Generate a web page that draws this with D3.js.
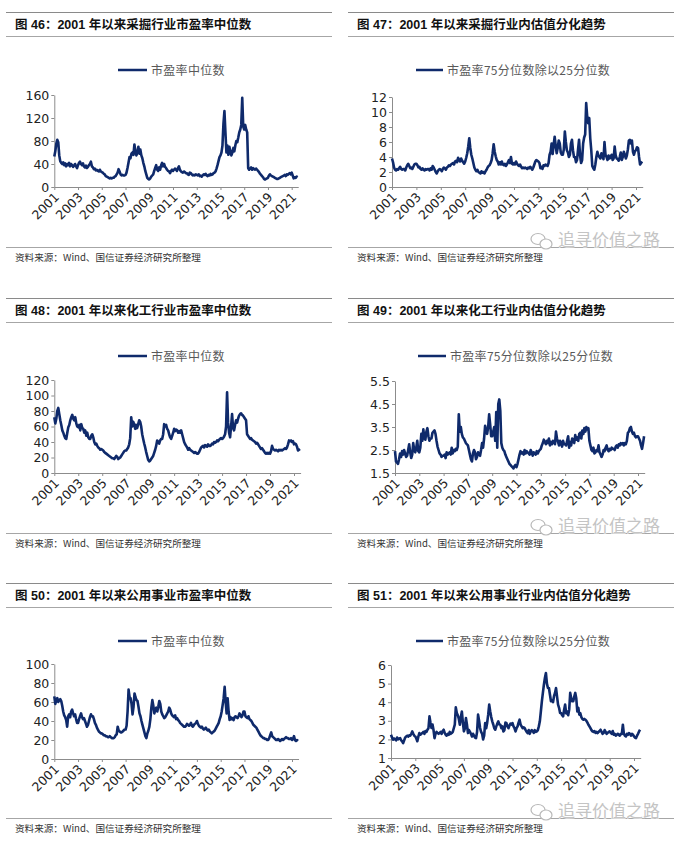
<!DOCTYPE html>
<html><head><meta charset="utf-8">
<script src="https://cdn.jsdelivr.net/npm/d3@7"></script>
<style>body{margin:0;background:#fff}svg{display:block}</style>
</head><body>
<svg id="c" width="678" height="846"></svg>
<script>
// ---- data (monthly, starting Jan 2001) ----
const startYear = 2001;
const yearTicks = [2001,2003,2005,2007,2009,2011,2013,2015,2017,2019,2021];
const yearTickLabels = ['2001','2003','2005','2007','2009','2011','2013','2015','2017','2019','2021'];

const miningPE = [
 53,62,75,82,78,55,45,42,40,43,38,41,
 36,40,38,42,36,40,38,35,37,40,36,33,
 38,42,44,40,38,41,36,34,37,33,35,38,
 40,44,36,34,31,32,29,30,28,27,30,27,
 26,25,23,22,19,18,17,16,15,16,15,16,
 16,18,19,22,25,31,27,22,20,21,20,20,
 21,25,33,42,52,50,58,60,56,74,62,55,
 60,70,58,65,55,50,42,36,28,22,16,14,
 13,15,18,20,22,28,33,38,30,28,34,30,
 38,42,36,40,35,33,30,28,27,24,28,30,
 28,30,32,30,28,33,36,30,27,26,25,27,
 26,24,24,22,21,25,24,22,20,21,20,22,
 21,20,22,19,20,18,20,22,21,23,20,19,
 21,20,23,21,22,24,25,27,32,38,45,52,
 55,60,72,110,132,95,60,72,56,70,62,55,
 60,68,62,72,80,78,86,95,100,108,155,105,
 100,108,100,95,33,30,32,34,30,33,31,30,
 32,30,28,26,23,21,19,17,14,13,14,15,
 16,20,22,20,19,18,17,16,15,14,14,15,
 16,17,18,19,20,21,19,22,21,23,24,22,
 25,20,15,17,16,18,17];

const miningRatio = [
 3.8,3.3,2.6,2.3,2.2,2.4,2.3,2.5,2.7,2.4,2.3,2.4,
 2.4,2.2,2.6,2.9,3.1,2.8,2.5,2.6,2.4,2.7,3.0,3.1,
 3.1,2.9,2.6,2.7,2.4,2.3,2.5,2.3,2.2,2.4,2.3,2.4,
 2.4,2.2,2.5,2.3,2.8,2.6,2.3,2.0,1.8,2.1,2.3,2.4,
 2.3,2.1,2.4,2.6,2.5,2.3,2.6,2.7,2.9,2.8,3.0,3.1,
 3.2,3.0,3.4,3.5,3.3,3.9,3.6,3.4,3.8,3.5,3.3,3.1,
 3.4,3.9,4.5,5.4,6.5,5.2,4.3,3.8,3.2,2.6,2.3,2.1,
 2.3,2.0,1.9,1.8,2.1,1.9,2.0,1.8,2.1,2.3,2.6,2.8,
 2.9,3.2,3.6,4.5,5.7,4.7,4.1,3.6,3.4,3.0,3.3,3.0,
 3.4,3.0,2.9,3.1,2.8,3.0,3.3,3.6,3.2,4.0,3.1,3.0,
 3.2,3.0,3.4,3.1,2.9,2.8,3.0,2.7,2.5,2.6,2.5,2.6,
 2.5,2.4,2.6,2.5,2.7,2.5,2.3,2.6,3.0,3.4,3.6,3.5,
 3.4,3.2,2.5,2.7,2.4,2.9,2.8,3.0,2.9,2.8,3.2,4.3,
 4.7,5.8,4.4,5.6,6.7,5.5,4.5,5.2,6.2,5.8,4.6,4.3,
 4.3,5.0,7.4,6.0,4.9,4.6,4.0,4.3,5.8,6.3,4.9,4.0,
 4.0,3.3,3.6,5.0,6.3,4.2,3.2,3.6,5.8,6.6,7.0,11.2,
 9.4,8.5,9.2,6.5,4.9,2.8,2.5,2.3,3.0,4.0,4.7,4.2,
 4.0,3.8,4.5,4.2,3.7,6.0,4.3,4.0,3.6,4.2,3.8,4.0,
 4.3,3.6,3.8,5.4,4.2,3.8,3.7,3.5,4.0,4.6,3.6,4.0,
 4.7,4.3,3.8,4.2,5.0,6.2,6.3,5.8,6.2,4.7,4.3,4.8,
 4.9,5.3,5.2,4.0,3.0,3.2,3.4];

const chemPE = [
 72,64,70,80,84,76,68,62,55,52,48,45,
 44,52,59,62,68,72,75,70,68,72,64,60,
 59,62,55,63,58,57,52,55,48,52,46,44,
 44,48,50,46,40,37,38,35,33,32,30,31,
 30,29,27,26,25,24,23,22,21,20,19,19,
 18,20,22,21,18,19,20,22,24,26,28,29,
 29,31,33,37,45,72,60,66,63,57,62,58,
 63,68,66,60,50,44,38,33,27,22,17,15,
 16,18,20,22,26,30,35,42,40,38,42,44,
 44,50,63,60,62,57,55,50,46,44,48,52,
 57,54,56,55,52,54,52,55,50,45,40,37,
 35,33,30,32,30,29,28,27,26,27,26,25,
 25,27,30,33,34,35,33,36,35,34,37,35,
 35,36,38,37,40,39,40,42,41,43,44,45,
 44,45,47,50,60,104,65,52,46,60,76,58,
 55,62,68,65,70,74,76,77,75,74,72,70,
 68,50,48,46,44,45,43,42,41,40,38,39,
 37,35,33,31,32,30,28,26,25,26,25,26,
 25,28,35,31,30,29,30,29,28,30,29,30,
 29,30,31,32,31,33,37,42,41,42,40,41,
 37,38,37,34,29,30,31];

const chemRatio = [
 2.45,2.0,1.95,1.9,2.1,2.35,2.2,2.45,2.3,2.5,2.35,2.2,
 2.25,2.5,2.75,2.4,2.15,2.3,2.8,2.5,2.4,2.6,2.9,2.45,
 2.4,2.6,3.2,2.9,3.4,3.0,2.95,3.3,3.45,3.1,2.9,3.0,
 3.0,3.25,3.3,3.35,3.2,2.9,2.65,2.5,2.35,2.3,2.2,2.25,
 2.25,2.3,2.15,2.4,2.3,2.35,2.4,2.3,2.6,2.35,2.5,2.45,
 2.55,2.5,2.65,4.05,3.3,3.5,3.2,3.05,3.0,2.9,2.8,2.75,
 2.7,2.5,2.3,2.1,2.0,2.35,2.5,2.4,2.1,2.2,2.4,2.3,
 2.25,2.5,2.8,2.6,3.0,3.55,3.3,3.2,3.5,4.05,3.6,3.1,
 3.1,3.3,3.5,2.9,4.15,2.6,4.5,4.7,4.2,2.8,2.6,2.5,
 2.45,2.3,2.2,2.1,2.0,1.9,1.85,1.8,1.75,1.7,1.8,1.85,
 1.75,1.9,2.1,2.3,2.45,2.35,2.4,2.3,2.5,2.35,2.45,2.4,
 2.35,2.3,2.5,2.4,2.25,2.4,2.35,2.3,2.45,2.35,2.45,2.5,
 2.55,2.7,2.8,2.95,2.85,2.75,2.9,2.8,3.0,2.7,2.85,2.75,
 2.9,2.85,2.75,3.3,3.0,2.85,2.7,2.9,2.8,2.65,2.9,2.75,
 2.75,2.7,2.9,3.1,2.6,2.85,2.7,3.0,2.9,2.8,3.15,2.95,
 3.05,2.9,3.2,3.25,3.0,3.35,3.2,3.45,3.3,3.5,3.4,3.45,
 2.9,2.7,2.5,2.45,2.6,2.35,2.4,2.5,2.45,2.7,2.4,2.3,
 2.2,2.3,2.5,2.45,2.6,2.7,2.5,2.45,2.55,2.5,2.6,2.55,
 2.55,2.5,2.65,2.7,2.6,2.75,2.7,2.8,2.75,2.8,2.7,2.8,
 2.75,2.9,3.25,3.3,3.45,3.5,3.3,3.2,3.25,3.1,3.05,3.1,
 3.1,3.0,2.9,2.7,2.55,2.8,3.1];

const utilPE = [
 66,58,62,64,60,62,63,61,56,50,46,44,
 41,34,45,47,44,50,52,48,45,47,42,38,
 38,42,45,48,44,42,43,40,37,34,36,40,
 44,47,45,45,42,38,36,33,31,29,28,27,
 27,26,25,25,24,24,23,23,24,23,22,22,
 22,23,25,26,34,30,29,28,28,29,30,31,
 31,35,50,73,65,64,58,47,55,69,65,62,
 61,55,48,45,40,36,32,28,24,22,27,30,
 34,42,54,62,56,48,52,54,50,55,61,58,
 50,47,45,43,44,46,48,50,54,52,48,46,
 45,44,46,42,43,41,40,38,37,36,35,34,
 34,35,37,36,35,36,38,35,34,36,37,38,
 40,37,35,34,33,34,32,31,32,33,31,30,
 31,29,28,27,28,29,30,32,34,36,38,42,
 45,50,57,64,76,60,48,64,50,41,44,42,
 43,41,44,45,44,43,45,48,46,44,46,50,
 50,45,44,43,45,42,41,40,38,36,35,34,
 33,31,29,27,25,24,23,22,22,21,21,20,
 20,22,25,28,24,23,22,21,20,20,21,20,
 19,20,21,20,21,22,23,22,22,21,21,22,
 20,21,24,20,19,20,19];

const utilRatio = [
 2.25,2.1,1.98,2.05,2.0,1.95,2.1,2.0,2.05,2.07,1.95,1.9,
 1.8,1.95,2.1,2.16,2.2,2.15,2.22,2.2,2.3,2.43,2.3,2.2,
 2.16,2.05,1.9,2.15,2.34,2.25,2.3,2.34,2.4,2.3,2.45,2.4,
 2.52,2.6,3.24,2.9,2.61,2.8,2.5,2.07,2.3,2.4,2.35,2.3,
 2.34,2.4,2.3,2.45,2.52,2.35,2.25,2.2,2.3,2.25,2.4,2.3,
 2.34,2.4,2.6,2.79,3.72,3.42,3.3,3.1,2.79,3.2,3.5,2.9,
 2.43,2.6,3.15,2.8,2.34,2.5,2.4,2.3,2.16,2.3,2.2,2.1,
 2.07,2.4,3.33,3.0,2.61,2.4,2.3,2.0,2.2,2.88,2.6,2.9,
 3.33,3.87,3.5,3.2,2.97,2.8,2.6,2.52,2.7,2.85,2.97,2.8,
 2.79,2.6,2.7,2.43,2.5,2.9,2.88,2.7,2.6,2.75,2.85,2.8,
 2.88,2.7,2.6,2.43,2.6,2.7,2.9,3.06,2.8,2.7,2.6,2.65,
 2.61,2.5,2.4,2.34,2.5,2.3,2.43,2.5,2.45,2.35,2.5,2.4,
 2.43,2.5,2.7,2.97,3.5,4.05,4.5,4.94,5.3,5.57,5.0,4.76,
 4.76,4.4,4.05,4.1,4.0,4.32,4.5,4.76,4.3,3.87,3.7,3.42,
 3.42,3.3,3.24,3.6,3.87,3.4,3.5,3.3,3.6,4.5,4.2,4.05,
 4.05,4.3,4.5,4.2,3.5,3.7,3.33,3.4,3.2,3.1,3.06,3.1,
 3.06,3.0,2.9,2.79,2.7,2.6,2.5,2.43,2.4,2.45,2.35,2.4,
 2.34,2.4,2.45,2.52,2.4,2.3,2.34,2.5,2.4,2.3,2.35,2.4,
 2.43,2.35,2.3,2.45,2.25,2.3,2.2,2.25,2.3,2.25,2.2,2.3,
 2.29,2.79,2.3,2.2,2.16,2.3,2.25,2.34,2.3,2.2,2.3,2.25,
 2.16,2.1,2.07,2.2,2.3,2.43,2.52];

const peTicks46 = [0,40,80,120,160];
const ratioTicks47 = [0,2,4,6,8,10,12];
const peTicks48 = [0,20,40,60,80,100,120];
const ratioTicks49 = [1.5,2.5,3.5,4.5,5.5];
const peTicks50 = [0,20,40,60,80,100];
const ratioTicks51 = [1,2,3,4,5,6];

const titles = [
 '图 46：2001 年以来采掘行业市盈率中位数',
 '图 47：2001 年以来采掘行业内估值分化趋势',
 '图 48：2001 年以来化工行业市盈率中位数',
 '图 49：2001 年以来化工行业内估值分化趋势',
 '图 50：2001 年以来公用事业市盈率中位数',
 '图 51：2001 年以来公用事业行业内估值分化趋势'];
const legendPE = '市盈率中位数';
const legendRatio = '市盈率75分位数除以25分位数';
const sourceText = '资料来源：Wind、国信证券经济研究所整理';
const watermark = '追寻价值之路';

// ---- layout ----
const panels = [
 {L:6,R:332,T:12,title:titles[0],legend:legendPE,data:miningPE,ticks:peTicks46,x0:54.3,x21:291.7,yb:187,yt:95,lg:[118,147],wm:false},
 {L:348,R:674,T:12,title:titles[1],legend:legendRatio,data:miningRatio,ticks:ratioTicks47,x0:392,x21:636,yb:187,yt:97,lg:[416,443],wm:true},
 {L:6,R:332,T:298,title:titles[2],legend:legendPE,data:chemPE,ticks:peTicks48,x0:54.3,x21:294,yb:473,yt:380,lg:[118,147],wm:false},
 {L:348,R:674,T:298,title:titles[3],legend:legendRatio,data:chemRatio,ticks:ratioTicks49,x0:395,x21:638,yb:473,yt:381,lg:[418,446],wm:true},
 {L:6,R:332,T:583,title:titles[4],legend:legendPE,data:utilPE,ticks:peTicks50,x0:54.3,x21:292,yb:759,yt:664,lg:[118,147],wm:false},
 {L:348,R:674,T:583,title:titles[5],legend:legendRatio,data:utilRatio,ticks:ratioTicks51,x0:391,x21:634,yb:758,yt:665,lg:[416,443],wm:true}
];

const svg = d3.select('#c');
const NAVY = '#0f2a6b';
const AX = '#8c8c8c';
const cjk = '"Noto Sans CJK SC", "Liberation Sans", sans-serif';

panels.forEach(p => {
  const g = svg.append('g');
  // rules
  g.append('line').attr('x1',p.L).attr('x2',p.R).attr('y1',p.T+0.5).attr('y2',p.T+0.5).attr('stroke','#8a8a8a').attr('stroke-width',1);
  g.append('line').attr('x1',p.L).attr('x2',p.R).attr('y1',p.T+24.5).attr('y2',p.T+24.5).attr('stroke','#a6a6a6').attr('stroke-width',1);
  g.append('text').attr('x',p.L+9).attr('y',p.T+17).text(p.title)
    .attr('font-family','"Liberation Sans", "Noto Sans CJK SC", sans-serif').attr('font-weight','bold')
    .attr('font-size',12.5).attr('fill','#111');
  // legend
  const ly = p.T+58;
  g.append('line').attr('x1',p.lg[0]).attr('x2',p.lg[1]).attr('y1',ly).attr('y2',ly).attr('stroke',NAVY).attr('stroke-width',2.5);
  g.append('text').attr('x',p.lg[1]+4).attr('y',ly+4.5).text(p.legend)
    .attr('font-family',cjk).attr('font-size',12).attr('fill','#595959').attr('letter-spacing',0.3);

  // scales
  const ext = 2021.55;
  const x = d3.scaleLinear().domain([2001, ext]).range([p.x0, p.x0 + (ext-2001)*(p.x21-p.x0)/20]);
  const y = d3.scaleLinear().domain([p.ticks[0], p.ticks[p.ticks.length-1]]).range([p.yb, p.yt]);

  const ya = g.append('g').attr('transform',`translate(${p.x0},0)`)
    .call(d3.axisLeft(y).tickValues(p.ticks).tickFormat(d=>String(d)).tickSize(3).tickSizeOuter(0).tickPadding(2));
  const xa = g.append('g').attr('transform',`translate(0,${p.yb})`)
    .call(d3.axisBottom(x).tickValues(yearTicks).tickFormat((d,i)=>yearTickLabels[i]).tickSize(3).tickSizeOuter(0));
  [ya,xa].forEach(a=>{
    a.select('.domain').attr('stroke',AX);
    a.selectAll('.tick line').attr('stroke',AX);
    a.selectAll('text').attr('font-family','"DejaVu Sans", sans-serif').attr('font-size',12.5).attr('fill','#222');
  });
  xa.selectAll('.tick text').attr('y',0).attr('dy',0).attr('text-anchor','end')
    .attr('transform','translate(5,11) rotate(-45)');

  const line = d3.line().x((d,i)=>x(startYear + i/12)).y(d=>y(d));
  g.append('path').datum(p.data).attr('d',line).attr('fill','none')
    .attr('stroke',NAVY).attr('stroke-width',2.6).attr('stroke-linejoin','round');

  // source
  g.append('line').attr('x1',p.L).attr('x2',p.R).attr('y1',p.T+235.5).attr('y2',p.T+235.5).attr('stroke','#a6a6a6').attr('stroke-width',1);
  g.append('text').attr('x',p.L+9).attr('y',p.T+249).text(sourceText)
    .attr('font-family',cjk).attr('font-size',9.6).attr('fill','#333');

  if (p.wm) {
    const wy = p.T+234;
    g.append('ellipse').attr('cx',p.L+190).attr('cy',wy-7).attr('rx',7).attr('ry',5.5).attr('fill','#fff').attr('stroke','#b8b8b8').attr('stroke-width',1.2);
    g.append('ellipse').attr('cx',p.L+198).attr('cy',wy-2).attr('rx',6).attr('ry',5).attr('fill','#fff').attr('stroke','#b8b8b8').attr('stroke-width',1.2);
    g.append('text').attr('x',p.L+210).attr('y',wy).text(watermark)
      .attr('font-family',cjk).attr('font-size',17).attr('fill','#c4c4c4')
      .attr('stroke','#fff').attr('stroke-width',0.6).attr('paint-order','stroke');
  }
});
</script>
</body></html>
